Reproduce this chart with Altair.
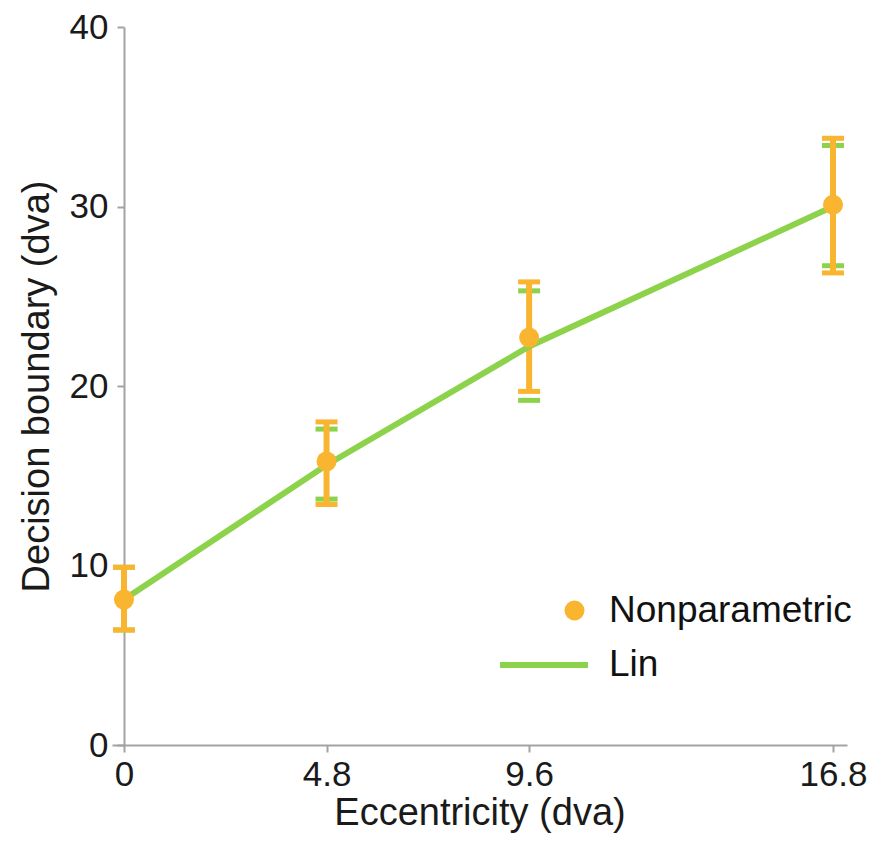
import altair as alt
import pandas as pd

# Data
ecc = [0, 4.8, 9.6, 16.8]
nonpar = [8.1, 15.8, 22.7, 30.1]
nonpar_lo = [6.4, 13.4, 19.7, 26.3]
nonpar_hi = [9.9, 18.0, 25.8, 33.8]
lin = [8.1, 15.6, 22.2, 30.0]
lin_lo = [6.4, 13.7, 19.2, 26.7]
lin_hi = [9.9, 17.6, 25.3, 33.4]
x_ticks = [0, 4.8, 9.6, 16.8]
y_ticks = [0, 10, 20, 30, 40]

ORANGE = "#F9B530"
GREEN = "#8CD24A"
FONT = "Liberation Sans"

df_np = pd.DataFrame({"ecc": ecc, "val": nonpar, "lo": nonpar_lo, "hi": nonpar_hi,
                      "series": ["Nonparametric"] * len(ecc)})
df_lin = pd.DataFrame({"ecc": ecc, "val": lin, "lo": lin_lo, "hi": lin_hi,
                       "model": ["Lin"] * len(ecc)})

W, H = 735, 718
xscale = alt.Scale(domain=[-0.284, 17.132], nice=False, zero=False)
yscale = alt.Scale(domain=[0, 40], nice=False)

xaxis = alt.Axis(values=x_ticks, labelExpr="'' + datum.value", title="Eccentricity (dva)",
                 grid=False)
yaxis = alt.Axis(values=y_ticks, title="Decision boundary (dva)", grid=False, offset=-12)

X = alt.X("ecc:Q", scale=xscale, axis=xaxis)
Xn = alt.X("ecc:Q", scale=xscale)


def caps(df, field, color):
    return alt.Chart(df).mark_tick(orient="horizontal", size=22, thickness=5,
                                   color=color, opacity=1).encode(
        x=Xn, y=alt.Y(f"{field}:Q", scale=yscale))


lin_cap_hi = caps(df_lin, "hi", GREEN)
lin_cap_lo = caps(df_lin, "lo", GREEN)

np_bar = alt.Chart(df_np).mark_rule(strokeWidth=6, color=ORANGE).encode(
    x=X, y=alt.Y("lo:Q", scale=yscale, axis=yaxis), y2="hi:Q")
np_cap_hi = caps(df_np, "hi", ORANGE)
np_cap_lo = caps(df_np, "lo", ORANGE)

line = alt.Chart(df_lin).mark_line(strokeWidth=6).encode(
    x=Xn, y=alt.Y("val:Q", scale=yscale),
    stroke=alt.Stroke("model:N", scale=alt.Scale(domain=["Lin"], range=[GREEN]),
                      legend=alt.Legend(title=None, orient="none", legendX=385, legendY=591,
                                        symbolType="stroke", symbolSize=7744, symbolStrokeWidth=6,
                                        labelFontSize=37, labelFont=FONT, labelColor="#111111",
                                        labelOffset=18, labelLimit=0, padding=0)))

points = alt.Chart(df_np).mark_circle(size=400, opacity=1).encode(
    x=Xn, y=alt.Y("val:Q", scale=yscale),
    color=alt.Color("series:N", scale=alt.Scale(domain=["Nonparametric"], range=[ORANGE]),
                    legend=alt.Legend(title=None, orient="none", legendX=444, legendY=565,
                                      symbolType="circle", symbolSize=400, symbolOpacity=1,
                                      labelFontSize=37, labelFont=FONT, labelColor="#111111",
                                      labelOffset=16, labelLimit=0, padding=0)))

chart = alt.layer(lin_cap_hi, lin_cap_lo, np_bar, np_cap_hi, np_cap_lo, line, points).resolve_scale(
    color="independent", stroke="independent"
).properties(
    width=W, height=H,
    autosize=alt.AutoSizeParams(type="none"),
    padding={"left": 112, "top": 27, "right": 32, "bottom": 100},
    background="white",
).configure_view(stroke=None).configure_axis(
    domainColor="#a3a3a3", domainWidth=2, tickColor="#a3a3a3", tickWidth=2, tickSize=7,
    labelFont=FONT, labelFontSize=35, labelColor="#1a1a1a",
    titleFont=FONT, titleFontSize=38, titleFontWeight="normal", titleColor="#1a1a1a",
).configure_axisX(labelPadding=5, titlePadding=2).configure_axisY(labelPadding=9, titlePadding=13)

chart.save("out.html", embed_options={"renderer": "svg", "actions": False})
